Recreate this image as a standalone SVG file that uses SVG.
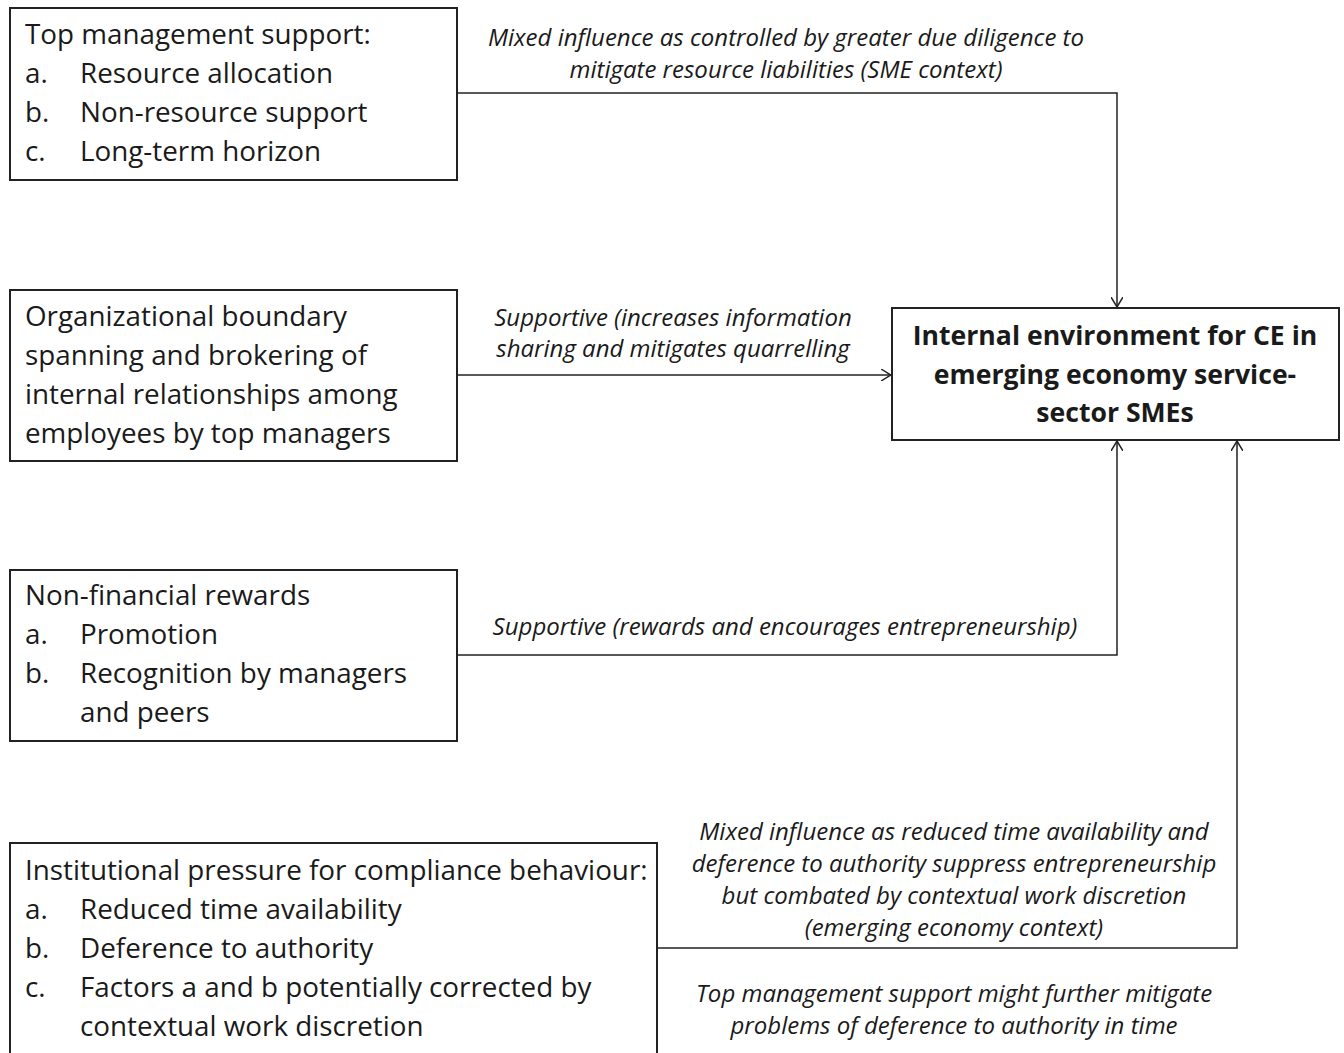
<svg xmlns="http://www.w3.org/2000/svg" width="1344" height="1053" viewBox="0 0 1344 1053">
<style>
.box{fill:#fff;stroke:#222;stroke-width:2}
.t{font-family:"Open Sans",Lato,sans-serif;font-size:27.8px;fill:#1a1a1a}
.b{font-family:"Open Sans",Lato,sans-serif;font-size:26.6px;font-weight:bold;fill:#1a1a1a;text-anchor:middle}
.l{font-family:"Open Sans",Lato,sans-serif;font-size:24px;font-style:italic;fill:#1a1a1a;text-anchor:middle}
.c{fill:none;stroke:#222;stroke-width:1.5}
</style>
<defs>
<marker id="arr" viewBox="0 0 10 12" refX="10" refY="6" markerWidth="10" markerHeight="12" markerUnits="userSpaceOnUse" orient="auto">
<path d="M0,0 L10,6 L0,12" fill="none" stroke="#222" stroke-width="1.5"/>
</marker>
</defs>
<rect width="1344" height="1053" fill="#fff"/>
<g id="connectors">
<path class="c" d="M457,93 H1117 V307" marker-end="url(#arr)"/>
<path class="c" d="M457,375 H891" marker-end="url(#arr)"/>
<path class="c" d="M457,655 H1117 V441" marker-end="url(#arr)"/>
<path class="c" d="M657,948 H1237 V441" marker-end="url(#arr)"/>
<text class="l"><tspan x="786" y="46">Mixed influence as controlled by greater due diligence to</tspan><tspan x="786" y="78">mitigate resource liabilities (SME context)</tspan></text>
<text class="l"><tspan x="673" y="326">Supportive (increases information</tspan><tspan x="673" y="357">sharing and mitigates quarrelling</tspan></text>
<text class="l" x="785" y="635">Supportive (rewards and encourages entrepreneurship)</text>
<text class="l"><tspan x="954" y="840">Mixed influence as reduced time availability and</tspan><tspan x="954" y="872">deference to authority suppress entrepreneurship</tspan><tspan x="954" y="904">but combated by contextual work discretion</tspan><tspan x="954" y="936">(emerging economy context)</tspan></text>
<text class="l"><tspan x="954" y="1002">Top management support might further mitigate</tspan><tspan x="954" y="1034">problems of deference to authority in time</tspan></text>
</g>
<g id="node-top-management">
<rect class="box" x="10" y="8" width="447" height="172"/>
<text class="t"><tspan x="25" y="44">Top management support:</tspan><tspan x="25" y="83">a.</tspan><tspan x="80" y="83">Resource allocation</tspan><tspan x="25" y="122">b.</tspan><tspan x="80" y="122">Non-resource support</tspan><tspan x="25" y="161">c.</tspan><tspan x="80" y="161">Long-term horizon</tspan></text>
</g>
<g id="node-boundary-spanning">
<rect class="box" x="10" y="290" width="447" height="171"/>
<text class="t"><tspan x="25" y="326">Organizational boundary</tspan><tspan x="25" y="365">spanning and brokering of</tspan><tspan x="25" y="404">internal relationships among</tspan><tspan x="25" y="443">employees by top managers</tspan></text>
</g>
<g id="node-rewards">
<rect class="box" x="10" y="570" width="447" height="171"/>
<text class="t"><tspan x="25" y="605">Non-financial rewards</tspan><tspan x="25" y="644">a.</tspan><tspan x="80" y="644">Promotion</tspan><tspan x="25" y="683">b.</tspan><tspan x="80" y="683">Recognition by managers</tspan><tspan x="80" y="722">and peers</tspan></text>
</g>
<g id="node-institutional">
<rect class="box" x="10" y="843" width="647" height="220"/>
<text class="t"><tspan x="25" y="880">Institutional pressure for compliance behaviour:</tspan><tspan x="25" y="919">a.</tspan><tspan x="80" y="919">Reduced time availability</tspan><tspan x="25" y="958">b.</tspan><tspan x="80" y="958">Deference to authority</tspan><tspan x="25" y="997">c.</tspan><tspan x="80" y="997">Factors a and b potentially corrected by</tspan><tspan x="80" y="1036">contextual work discretion</tspan></text>
</g>
<g id="node-internal-environment">
<rect class="box" x="892" y="308" width="447" height="132"/>
<text class="b"><tspan x="1115" y="345">Internal environment for CE in</tspan><tspan x="1115" y="384">emerging economy service-</tspan><tspan x="1115" y="422">sector SMEs</tspan></text>
</g>
</svg>
